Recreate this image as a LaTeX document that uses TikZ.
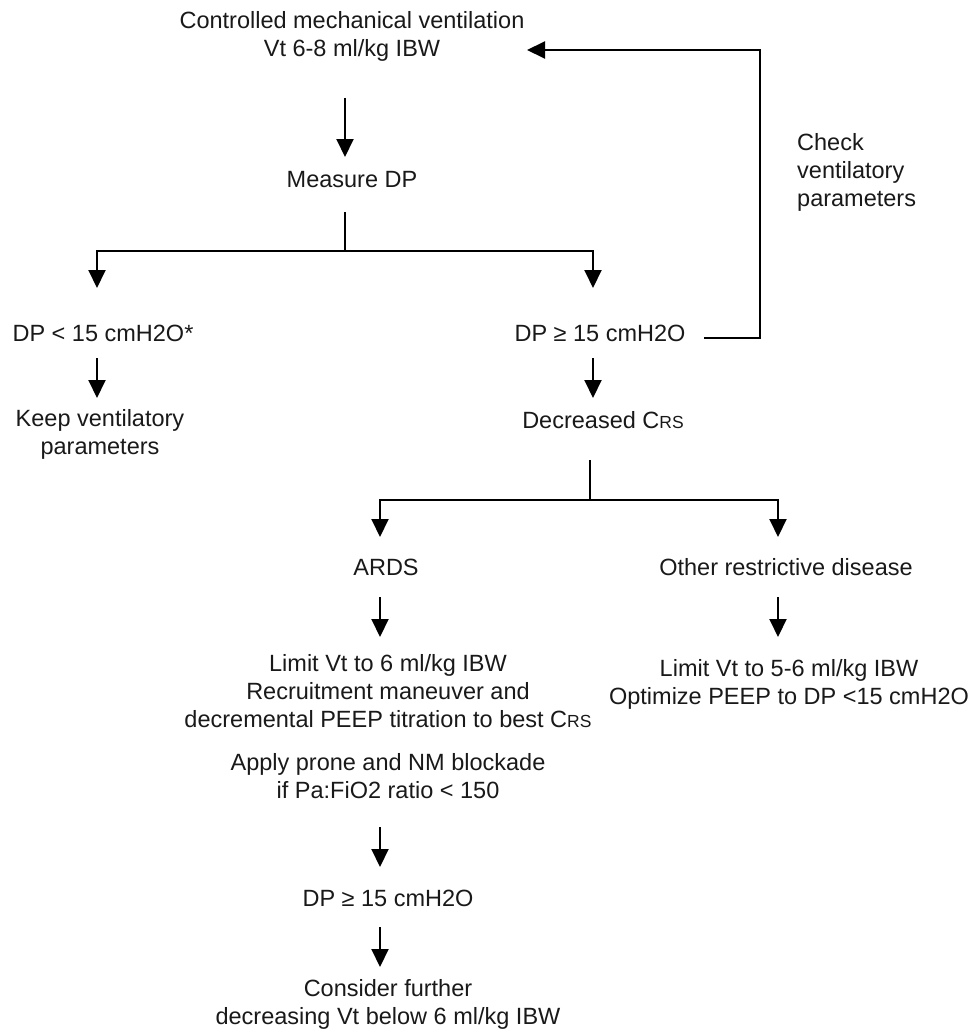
\documentclass[tikz,border=0pt]{standalone}
\usepackage{fontspec}
\setmainfont{Liberation Sans}
\usetikzlibrary{arrows.meta}
\newcommand{\crs}{C{\fontsize{17.5}{20}\selectfont RS}}
\begin{document}
\begin{tikzpicture}[x=1pt,y=-1pt,
  txt/.style={inner sep=0pt,align=center,font=\fontsize{23.5}{28}\selectfont,text=black!90},
  arr/.style={line width=2pt,-{Triangle[length=18pt,width=17pt]}},
  ln/.style={line width=2pt}]
\useasboundingbox (0,0) rectangle (979,1030);
% texts
\node[txt] (top) at (352,36) {Controlled mechanical ventilation\\Vt 6-8 ml/kg IBW};
\node[txt] (meas) at (352,180) {Measure DP};
\node[txt] (dpl) at (103,333) {DP < 15 cmH2O*};
\node[txt] (dpg) at (600,333) {DP ≥ 15 cmH2O};
\node[txt,align=left,anchor=west] (check) at (797,172) {Check\\ventilatory\\parameters};
\node[txt] (keep) at (100,434) {Keep ventilatory\\parameters};
\node[txt] (decr) at (603,420) {Decreased \crs};
\node[txt] (ards) at (386,567) {ARDS};
\node[txt] (other) at (786,567) {Other restrictive disease};
\node[txt] (ardsbox) at (388,691) {Limit Vt to 6 ml/kg IBW\\Recruitment maneuver and\\decremental PEEP titration to best \crs};
\node[txt] (apply) at (388,776) {Apply prone and NM blockade\\if Pa:FiO2 ratio < 150};
\node[txt] (otherbox) at (789,684) {Limit Vt to 5-6 ml/kg IBW\\Optimize PEEP to DP <15 cmH2O};
\node[txt] (dp2) at (388,898) {DP ≥ 15 cmH2O};
\node[txt] (cons) at (388,1004) {Consider further\\decreasing Vt below 6 ml/kg IBW};
% connector coordinates
\coordinate (a1s) at (345,98);  \coordinate (a1e) at (345,157);
\coordinate (s1) at (345,212);  \coordinate (j1) at (345,251);
\coordinate (l1) at (97,251);   \coordinate (l1e) at (97,288);
\coordinate (r1) at (593,251);  \coordinate (r1e) at (593,288);
\coordinate (fb1) at (704,338); \coordinate (fb2) at (760,338);
\coordinate (fb3) at (760,50);  \coordinate (fbe) at (527,50);
\coordinate (a2s) at (97,358);  \coordinate (a2e) at (97,398);
\coordinate (a3s) at (593,358); \coordinate (a3e) at (593,398);
\coordinate (s2) at (590,460);  \coordinate (j2) at (590,500);
\coordinate (l2) at (380,500);  \coordinate (l2e) at (380,537);
\coordinate (r2) at (778,500);  \coordinate (r2e) at (778,537);
\coordinate (a4s) at (380,597); \coordinate (a4e) at (380,637);
\coordinate (a5s) at (778,597); \coordinate (a5e) at (778,637);
\coordinate (a6s) at (380,827); \coordinate (a6e) at (380,867);
\coordinate (a7s) at (380,927); \coordinate (a7e) at (380,967);
% connectors
\draw[arr] (a1s) -- (a1e);
\draw[ln] (s1) -- (j1);
\draw[arr] (j1) -- (l1) -- (l1e);
\draw[arr] (j1) -- (r1) -- (r1e);
\draw[arr] (fb1) -- (fb2) -- (fb3) -- (fbe);
\draw[arr] (a2s) -- (a2e);
\draw[arr] (a3s) -- (a3e);
\draw[ln] (s2) -- (j2);
\draw[arr] (j2) -- (l2) -- (l2e);
\draw[arr] (j2) -- (r2) -- (r2e);
\draw[arr] (a4s) -- (a4e);
\draw[arr] (a5s) -- (a5e);
\draw[arr] (a6s) -- (a6e);
\draw[arr] (a7s) -- (a7e);
\end{tikzpicture}
\end{document}
